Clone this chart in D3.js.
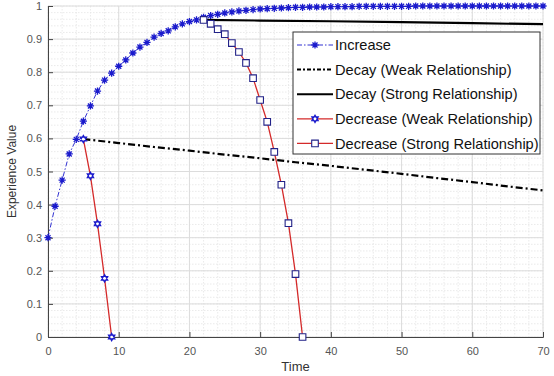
<!DOCTYPE html>
<html>
<head>
<script src="https://d3js.org/d3.v7.min.js"></script>
<style>
  body { margin: 0; background: #fff; }
  svg { font-family: "Liberation Sans", Arial, sans-serif; }
</style>
</head>
<body>
<svg id="chart" width="554" height="376"></svg>
<script>
// increase curve, one value per time step 0..70
const increaseT = d3.range(0, 71);
const increaseV = [
  0.300, 0.395, 0.474, 0.553, 0.597, 0.652, 0.698, 0.743, 0.776, 0.797,
  0.818, 0.837, 0.858, 0.876, 0.890, 0.906, 0.917, 0.925, 0.937, 0.946,
  0.953, 0.958, 0.966, 0.971, 0.975, 0.979, 0.982, 0.985, 0.987, 0.989,
  0.991, 0.992, 0.993, 0.994, 0.995, 0.996, 0.996, 0.997, 0.997, 0.997,
  0.998, 0.998, 0.998, 0.998, 0.999, 0.999, 0.999, 0.999, 0.999, 0.999,
  0.999, 0.999, 1.000, 1.000, 1.000, 1.000, 1.000, 1.000, 1.000, 1.000,
  1.000, 1.000, 1.000, 1.000, 1.000, 1.000, 1.000, 1.000, 1.000, 1.000,
  1.000
];
const decayWeakT = [5, 10, 15, 20, 25, 30, 35, 40, 45, 50, 55, 60, 65, 70];
const decayWeakV = [0.598, 0.586, 0.574, 0.563, 0.551, 0.540, 0.528, 0.517, 0.505, 0.493, 0.480, 0.468, 0.455, 0.443];
const decayStrongT = [22, 30, 40, 50, 60, 70];
const decayStrongV = [0.958, 0.956, 0.954, 0.951, 0.948, 0.945];
const decWeakT = [5, 6, 7, 8, 9];
const decWeakV = [0.598, 0.487, 0.342, 0.177, 0];
const decStrongT = [22, 23, 24, 25, 26, 27, 28, 29, 30, 31, 32, 33, 34, 35, 36];
const decStrongV = [0.958, 0.946, 0.930, 0.915, 0.888, 0.861, 0.828, 0.782, 0.716, 0.650, 0.559, 0.460, 0.344, 0.190, 0];
const xTicks = [0, 10, 20, 30, 40, 50, 60, 70];
const yTicks = [0, 0.1, 0.2, 0.3, 0.4, 0.5, 0.6, 0.7, 0.8, 0.9, 1];
const legendLabels = ["Increase", "Decay (Weak Relationship)", "Decay (Strong Relationship)",
  "Decrease (Weak Relationship)", "Decrease (Strong Relationship)"];

const svg = d3.select("#chart");
const margin = { top: 6, right: 11, bottom: 39, left: 48 };
const width = 554 - margin.left - margin.right;
const height = 376 - margin.top - margin.bottom;

const x = d3.scaleLinear().domain([0, 70]).range([0, width]);
const y = d3.scaleLinear().domain([0, 1]).range([height, 0]);

const g = svg.append("g").attr("transform", `translate(${margin.left},${margin.top})`);

// minor grid
g.append("g").selectAll("line").data(d3.range(0, 70.01, 2)).enter().append("line")
  .attr("x1", d => x(d)).attr("x2", d => x(d)).attr("y1", 0).attr("y2", height)
  .attr("stroke", "#e4e4e4").attr("stroke-width", 0.8).attr("stroke-dasharray", "1.5,1.5");
g.append("g").selectAll("line").data(d3.range(0, 1.001, 0.02)).enter().append("line")
  .attr("y1", d => y(d)).attr("y2", d => y(d)).attr("x1", 0).attr("x2", width)
  .attr("stroke", "#e4e4e4").attr("stroke-width", 0.8).attr("stroke-dasharray", "1.5,1.5");
// major grid
g.append("g").selectAll("line").data(xTicks).enter().append("line")
  .attr("x1", d => x(d)).attr("x2", d => x(d)).attr("y1", 0).attr("y2", height)
  .attr("stroke", "#dcdcdc").attr("stroke-width", 1);
g.append("g").selectAll("line").data(yTicks).enter().append("line")
  .attr("y1", d => y(d)).attr("y2", d => y(d)).attr("x1", 0).attr("x2", width)
  .attr("stroke", "#dcdcdc").attr("stroke-width", 1);

// axes with inward ticks
const xAxis = g.append("g").attr("transform", `translate(0,${height})`)
  .call(d3.axisBottom(x).tickValues(xTicks).tickSize(-5).tickPadding(10).tickFormat(d3.format("d")));
const yAxis = g.append("g")
  .call(d3.axisLeft(y).tickValues(yTicks).tickSize(-5).tickPadding(6).tickFormat(d => d === 0 || d === 1 ? d : d3.format(".1f")(d)));
[xAxis, yAxis].forEach(a => {
  a.select(".domain").attr("stroke", "#444");
  a.selectAll(".tick line").attr("stroke", "#444");
  a.selectAll(".tick text").attr("fill", "#555").attr("font-size", 11);
});

svg.append("text").attr("x", margin.left + width / 2).attr("y", 371)
  .attr("text-anchor", "middle").attr("font-size", 13).attr("fill", "#333").text("Time");
svg.append("text").attr("transform", `translate(16,${margin.top + height / 2}) rotate(-90)`)
  .attr("text-anchor", "middle").attr("font-size", 12).attr("fill", "#333").text("Experience Value");

const line = d3.line().x(d => x(d[0])).y(d => y(d[1]));
const zip = (a, b) => a.map((t, i) => [t, b[i]]);

const inc = zip(increaseT, increaseV);
const dw = zip(decayWeakT, decayWeakV);
const ds = zip(decayStrongT, decayStrongV);
const rw = zip(decWeakT, decWeakV);
const rs = zip(decStrongT, decStrongV);

const blue = "#1a1acc";
const red = "#d42a2a";

// marker paths
const starPath = r => `M${-r},0L${r},0M0,${-r}L0,${r}M${-r * 0.7},${-r * 0.7}L${r * 0.7},${r * 0.7}M${-r * 0.7},${r * 0.7}L${r * 0.7},${-r * 0.7}`;
const hexPath = r => {
  const p = a => [r * Math.sin(a), -r * Math.cos(a)];
  const t1 = [0, 2, 4].map(k => p(k * Math.PI / 3));
  const t2 = [1, 3, 5].map(k => p(k * Math.PI / 3));
  return "M" + t1.join("L") + "Z M" + t2.join("L") + "Z";
};

function drawMarkers(data, kind) {
  const sel = g.append("g").selectAll("path").data(data).enter().append("path")
    .attr("transform", d => `translate(${x(d[0])},${y(d[1])})`);
  styleMarker(sel, kind);
}
function styleMarker(sel, kind) {
  if (kind === "star") sel.attr("d", starPath(3.6)).attr("stroke", blue).attr("stroke-width", 1.3).attr("fill", "none");
  if (kind === "hex") sel.attr("d", hexPath(3.8)).attr("stroke", blue).attr("stroke-width", 1.1).attr("fill", "#fff");
  if (kind === "square") sel.attr("d", "M-3.3,-3.3H3.3V3.3H-3.3Z").attr("stroke", "#222288").attr("stroke-width", 1.1).attr("fill", "#fff");
}

g.append("path").datum(inc).attr("d", line).attr("fill", "none").attr("stroke", blue)
  .attr("stroke-width", 0.9).attr("stroke-dasharray", "5,2,1.5,2");
drawMarkers(inc, "star");
g.append("path").datum(dw).attr("d", line).attr("fill", "none").attr("stroke", "#000")
  .attr("stroke-width", 2.2).attr("stroke-dasharray", "7,3,2,3");
g.append("path").datum(ds).attr("d", line).attr("fill", "none").attr("stroke", "#000").attr("stroke-width", 2.2);
g.append("path").datum(rw).attr("d", line).attr("fill", "none").attr("stroke", red).attr("stroke-width", 1.3);
drawMarkers(rw, "hex");
g.append("path").datum(rs).attr("d", line).attr("fill", "none").attr("stroke", red).attr("stroke-width", 1.3);
drawMarkers(rs, "square");

// legend
const lg = svg.append("g").attr("transform", "translate(293,32)");
lg.append("rect").attr("width", 247).attr("height", 122).attr("fill", "#fff").attr("stroke", "#333").attr("stroke-width", 1);
const styles = [
  { stroke: blue, w: 0.9, dash: "5,2,1.5,2", marker: "star" },
  { stroke: "#000", w: 2, dash: "4,2,2,2", marker: null },
  { stroke: "#000", w: 2, dash: null, marker: null },
  { stroke: red, w: 1.2, dash: null, marker: "hex" },
  { stroke: red, w: 1.2, dash: null, marker: "square" }
];
legendLabels.forEach((lab, i) => {
  const row = lg.append("g").attr("transform", `translate(0,${13 + i * 24.6})`);
  const s = styles[i];
  row.append("line").attr("x1", 4).attr("x2", 40).attr("stroke", s.stroke).attr("stroke-width", s.w)
    .attr("stroke-dasharray", s.dash);
  if (s.marker) styleMarker(row.append("path").attr("transform", "translate(22,0)"), s.marker);
  row.append("text").attr("x", 42).attr("dy", "0.35em").attr("font-size", 14.6).attr("fill", "#111").text(lab);
});
</script>
</body>
</html>
